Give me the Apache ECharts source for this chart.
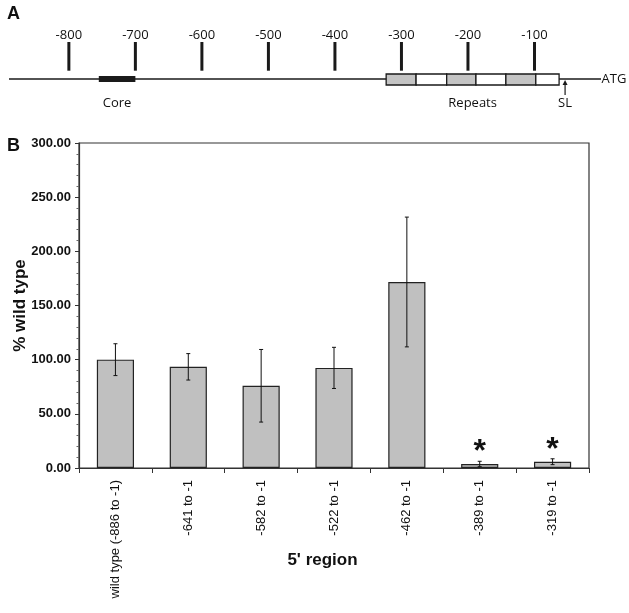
<!DOCTYPE html>
<html><head><meta charset="utf-8">
<script src="https://cdn.jsdelivr.net/npm/echarts@6/dist/echarts.min.js"></script>
<style>html,body{margin:0;padding:0;background:#fff}#c{width:629px;height:613px}</style>
</head><body><div id="c"></div>
<script>
// ---------- Panel B data ----------
const categories = ['wild type (-886 to -1)', '-641 to -1', '-582 to -1', '-522 to -1', '-462 to -1', '-389 to -1', '-319 to -1'];
const percentWildType = [100.0, 93.4, 75.9, 92.4, 171.7, 3.7, 5.8];
const errorSD = [14.7, 12.2, 33.5, 19.0, 59.9, 2.5, 2.7];
const significance = ['', '', '', '', '', '*', '*'];
const yMin = 0, yMax = 300, yStep = 50;

// ---------- Panel A data ----------
const mapTicks = [-800, -700, -600, -500, -400, -300, -200, -100];
const promoterSpan = [-890, 0];
const coreElement = [-755, -700];
const repeatEdges = [-323, -278, -232, -188, -143, -98, -63];
const stemLoopPos = -54;
const startLabel = 'ATG';
const featureNames = ['Core', 'Repeats', 'SL'];

const featureCenters = [
  (coreElement[0] + coreElement[1]) / 2,
  (repeatEdges[0] + repeatEdges[repeatEdges.length - 1]) / 2,
  stemLoopPos
];

// vertical levels for schematic (value space of hidden y axis, -1..1)
const LV = { tickTop: 0.74, tickBot: 0.166, tickLab: 0.87, coreHalf: 0.06, repTop: 0.1, repBot: -0.12, arrowTail: -0.32, arrowTip: -0.02, featLab: -0.486 };
const SAN = 'Liberation Sans, Arial, Helvetica, sans-serif';
const MYR = 'Open Sans, Noto Sans, sans-serif';

const chart = echarts.init(document.getElementById('c'), null, { renderer: 'canvas' });

const option = {
  animation: false,
  backgroundColor: '#fff',
  graphic: [
    { type: 'text', left: 7, top: 5, style: { text: 'A', font: 'bold 18px ' + SAN, fill: '#111' } },
    { type: 'text', left: 7, top: 137, style: { text: 'B', font: 'bold 18px ' + SAN, fill: '#111' } }
  ],
  grid: [
    { left: 79, right: 40, top: 143, bottom: 145, show: true, borderColor: '#333', borderWidth: 1.2, backgroundColor: 'transparent', containLabel: false, outerBoundsMode: 'none' },
    { left: 9, right: 28, top: 29, height: 100, show: false, containLabel: false, outerBoundsMode: 'none' }
  ],
  xAxis: [
    {
      type: 'category', gridIndex: 0, data: categories,
      axisLine: { lineStyle: { color: '#333', width: 1.2 } },
      axisTick: { show: true, interval: 0, length: 5, lineStyle: { color: '#333' } },
      axisLabel: { interval: 0, rotate: 90, margin: 12, fontSize: 13, color: '#111', fontFamily: SAN },
      name: "5' region", nameLocation: 'middle', nameGap: 84, nameMoveOverlap: false,
      nameTextStyle: { fontSize: 17, fontWeight: 'bold', color: '#111', fontFamily: SAN, padding: [0, 23, 0, 0] }
    },
    { type: 'value', gridIndex: 1, min: promoterSpan[0], max: promoterSpan[1], show: false }
  ],
  yAxis: [
    {
      type: 'value', gridIndex: 0, min: yMin, max: yMax, interval: yStep,
      axisLine: { show: true, lineStyle: { color: '#333', width: 1.2 } },
      axisTick: { show: true, length: 4, lineStyle: { color: '#333' } },
      minorTick: { show: true, splitNumber: 5, length: 2.5, lineStyle: { color: '#666' } },
      splitLine: { show: false },
      axisLabel: { formatter: v => v.toFixed(2), fontSize: 13, fontWeight: 'bold', color: '#111', margin: 8, fontFamily: SAN },
      name: '% wild type', nameLocation: 'middle', nameGap: 50, nameRotate: 90, nameMoveOverlap: false,
      nameTextStyle: { fontSize: 17, fontWeight: 'bold', color: '#111', fontFamily: SAN }
    },
    { type: 'value', gridIndex: 1, min: -1, max: 1, show: false }
  ],
  series: [
    {
      type: 'bar', xAxisIndex: 0, yAxisIndex: 0, data: percentWildType, barWidth: '51%',
      itemStyle: { color: '#c0c0c0', borderColor: '#222', borderWidth: 1.2 },
      label: {
        show: true, position: 'top', distance: -4,
        formatter: p => significance[p.dataIndex],
        fontSize: 32, fontWeight: 'bold', color: '#111', fontFamily: SAN
      },
      z: 2
    },
    {
      type: 'custom', xAxisIndex: 0, yAxisIndex: 0, z: 3,
      data: percentWildType.map((v, i) => [i, v - errorSD[i], v + errorSD[i]]),
      renderItem: function (params, api) {
        const lo = api.coord([api.value(0), api.value(1)]);
        const hi = api.coord([api.value(0), api.value(2)]);
        const st = { stroke: '#111', lineWidth: 1 };
        return { type: 'group', children: [
          { type: 'line', shape: { x1: hi[0], y1: hi[1], x2: lo[0], y2: lo[1] }, style: st },
          { type: 'line', shape: { x1: hi[0] - 2, y1: hi[1], x2: hi[0] + 2, y2: hi[1] }, style: st },
          { type: 'line', shape: { x1: lo[0] - 2, y1: lo[1], x2: lo[0] + 2, y2: lo[1] }, style: st }
        ] };
      }
    },
    // ---- Panel A: backbone line + ATG
    {
      type: 'custom', xAxisIndex: 1, yAxisIndex: 1, clip: false, z: 1,
      data: [promoterSpan],
      renderItem: function (params, api) {
        const a = api.coord([api.value(0), 0]);
        const b = api.coord([api.value(1), 0]);
        return { type: 'group', children: [
          { type: 'line', shape: { x1: a[0], y1: a[1], x2: b[0], y2: b[1] }, style: { stroke: '#1a1a1a', lineWidth: 1.6 } },
          { type: 'text', x: b[0] + 0.5, y: b[1], style: { text: startLabel, font: '13px ' + MYR, fill: '#111', align: 'left', verticalAlign: 'middle' } }
        ] };
      }
    },
    // ---- Panel A: position ticks
    {
      type: 'custom', xAxisIndex: 1, yAxisIndex: 1, clip: false, z: 2,
      data: mapTicks.map(v => [v]),
      renderItem: function (params, api) {
        const v = api.value(0);
        const t = api.coord([v, LV.tickTop]);
        const b = api.coord([v, LV.tickBot]);
        const l = api.coord([v, LV.tickLab]);
        return { type: 'group', children: [
          { type: 'line', shape: { x1: t[0], y1: t[1], x2: b[0], y2: b[1] }, style: { stroke: '#1a1a1a', lineWidth: 3 } },
          { type: 'text', x: l[0], y: l[1], style: { text: String(mapTicks[params.dataIndex]), font: '13px ' + MYR, fill: '#111', align: 'center', verticalAlign: 'middle' } }
        ] };
      }
    },
    // ---- Panel A: core element
    {
      type: 'custom', xAxisIndex: 1, yAxisIndex: 1, clip: false, z: 3,
      data: [coreElement],
      renderItem: function (params, api) {
        const a = api.coord([api.value(0), LV.coreHalf]);
        const b = api.coord([api.value(1), -LV.coreHalf]);
        return { type: 'rect', shape: { x: a[0], y: a[1], width: b[0] - a[0], height: b[1] - a[1] }, style: { fill: '#1a1a1a' } };
      }
    },
    // ---- Panel A: repeats
    {
      type: 'custom', xAxisIndex: 1, yAxisIndex: 1, clip: false, z: 3,
      data: repeatEdges.slice(0, -1).map((e, i) => [e, repeatEdges[i + 1]]),
      renderItem: function (params, api) {
        const a = api.coord([api.value(0), LV.repTop]);
        const b = api.coord([api.value(1), LV.repBot]);
        return { type: 'rect', shape: { x: a[0], y: a[1], width: b[0] - a[0], height: b[1] - a[1] },
          style: { fill: params.dataIndex % 2 === 0 ? '#c4c4c4' : '#ffffff', stroke: '#1a1a1a', lineWidth: 1.3 } };
      }
    },
    // ---- Panel A: SL arrow
    {
      type: 'custom', xAxisIndex: 1, yAxisIndex: 1, clip: false, z: 4,
      data: [[stemLoopPos]],
      renderItem: function (params, api) {
        const tail = api.coord([api.value(0), LV.arrowTail]);
        const tip = api.coord([api.value(0), LV.arrowTip]);
        return { type: 'group', children: [
          { type: 'line', shape: { x1: tail[0], y1: tail[1], x2: tip[0], y2: tip[1] + 3 }, style: { stroke: '#1a1a1a', lineWidth: 1.2 } },
          { type: 'polygon', shape: { points: [[tip[0], tip[1]], [tip[0] - 2.5, tip[1] + 5], [tip[0] + 2.5, tip[1] + 5]] }, style: { fill: '#1a1a1a' } }
        ] };
      }
    },
    // ---- Panel A: feature labels
    {
      type: 'custom', xAxisIndex: 1, yAxisIndex: 1, clip: false, z: 4,
      data: featureCenters.map(v => [v]),
      renderItem: function (params, api) {
        const p = api.coord([api.value(0), LV.featLab]);
        return { type: 'text', x: p[0], y: p[1], style: { text: featureNames[params.dataIndex], font: '13px ' + MYR, fill: '#111', align: 'center', verticalAlign: 'middle' } };
      }
    }
  ]
};
chart.setOption(option);
</script>
</body></html>
